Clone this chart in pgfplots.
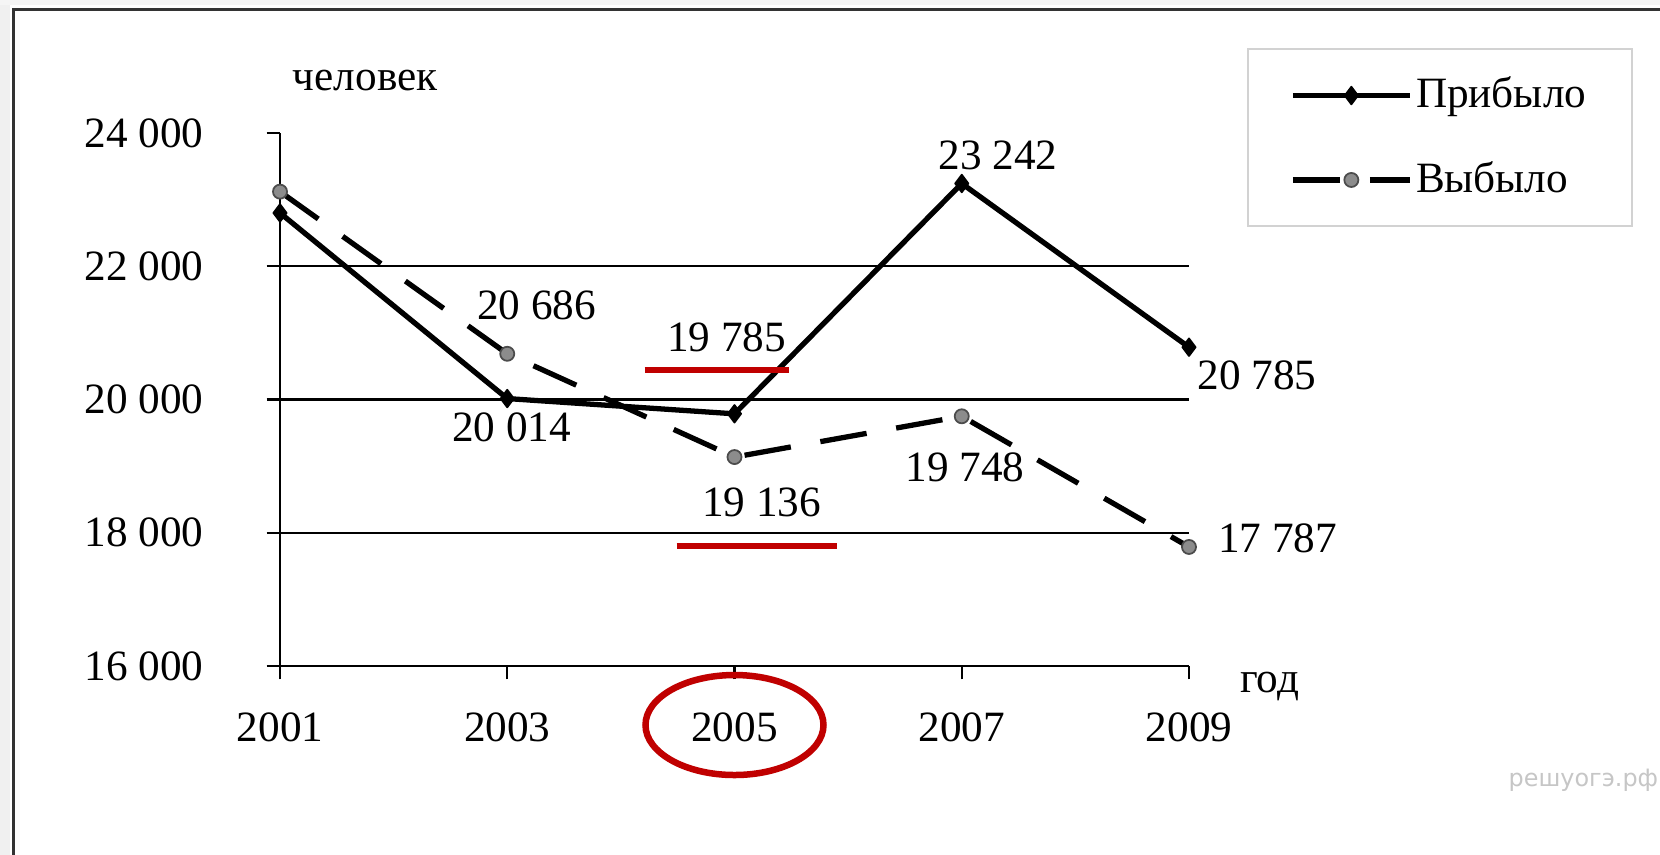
\documentclass[border=0pt]{standalone}
\usepackage{fontspec}
\setmainfont{Liberation Serif}
\newfontfamily\wmfont{DejaVu Sans}
\usepackage{pgfplots}
\pgfplotsset{compat=1.18}
\definecolor{annot}{RGB}{192,0,0}
\definecolor{markgray}{RGB}{140,140,140}

\begin{document}
\fontsize{12.3pt}{15pt}\selectfont
\begin{tikzpicture}
\useasboundingbox (0,0) rectangle (16.6,8.55);
\clip (0,0) rectangle (16.6,8.55);
\fill[white] (0,0) rectangle (16.6,8.55);
\fill[gray!12] (0,0) rectangle (0.1,8.55);
\fill[gray!8] (0,8.5) rectangle (16.6,8.55);
\draw[line width=0.03cm, black!80] (0.13,-0.1) -- (0.13,8.45) -- (16.7,8.45);
\node[anchor=west, inner sep=0, text=gray!45, font=\wmfont\fontsize{6.8}{8}\selectfont] at (15.08,0.75) {решуогэ.рф};

\begin{axis}[
  scale only axis, width=9.09cm, height=5.33cm,
  at={(2.80cm,1.89cm)}, anchor=south west,
  xmin=2001, xmax=2009, ymin=16000, ymax=24000,
  scaled y ticks=false, scaled x ticks=false,
  axis lines=left, axis line style={-, line width=0.6pt},
  tick align=outside, major tick length=0.135cm,
  tick style={black, line width=0.6pt},
  xtick={2001,2003,2005,2007,2009},
  xticklabels={2001,2003,2005,2007,2009},
  ytick={16000,18000,20000,22000,24000},
  yticklabels={16 000,18 000,20 000,22 000,24 000},
  extra y ticks={18000,20000,22000}, extra y tick labels={},
  extra y tick style={ymajorgrids=true, major tick length=0pt},
  major grid style={black, line width=0.6pt},
  xticklabel style={yshift=-0.18cm},
  yticklabel style={xshift=-0.48cm},
  clip=false,
  legend style={at={(1.064,1.159)}, anchor=north west, draw=gray!35,
    line width=0.6pt, inner xsep=0.42cm, inner ysep=0.24cm, row sep=0.40cm,
    nodes={inner sep=0.035cm, anchor=west}},
  legend cell align=left,
  legend image code/.code={\draw[mark repeat=2,mark phase=2,#1]
    plot coordinates {(0cm,0cm) (0.585cm,0cm) (1.17cm,0cm)};},
]
\addplot[black, line width=1.5pt, line join=round, mark=diamond*, mark size=2.5pt,
  mark options={solid, line width=0.5pt}]
  coordinates {(2001,22800) (2003,20014) (2005,19785) (2007,23242) (2009,20785)};
\addlegendentry{Прибыло}
\addplot[black, line width=1.5pt, dash pattern=on 0.47cm off 0.3cm, mark=*, mark size=2pt,
  mark options={solid, fill=markgray, draw=black!70, line width=0.5pt}]
  coordinates {(2001,23120) (2003,20686) (2005,19136) (2007,19748) (2009,17787)};
\addlegendentry{Выбыло}

% value labels
\node[inner sep=0] at (axis cs:2007.32,23670) {23 242};
\node[inner sep=0] at (axis cs:2003.26,21418) {20 686};
\node[inner sep=0] at (axis cs:2004.93,20938) {19 785};
\node[inner sep=0] at (axis cs:2003.04,19587) {20 014};
\node[inner sep=0] at (axis cs:2005.24,18461) {19 136};
\node[inner sep=0] at (axis cs:2007.03,18987) {19 748};
\node[inner sep=0, anchor=west] at (axis cs:2009.07,20368) {20 785};
\node[inner sep=0, anchor=west] at (axis cs:2009.25,17921) {17 787};

% axis captions
\node[inner sep=0] at (axis cs:2001.75,24795) {человек};
\node[inner sep=0] at (axis cs:2009.71,15685) {год};

% red marks
\draw[annot, line width=0.06cm] (axis cs:2004.21,20443) -- (axis cs:2005.48,20443);
\draw[annot, line width=0.06cm] (axis cs:2004.49,17801) -- (axis cs:2005.90,17801);
\draw[annot, line width=0.065cm] (axis cs:2005,15114) ellipse [x radius=0.89cm, y radius=0.5cm];
\end{axis}
\end{tikzpicture}
\end{document}
